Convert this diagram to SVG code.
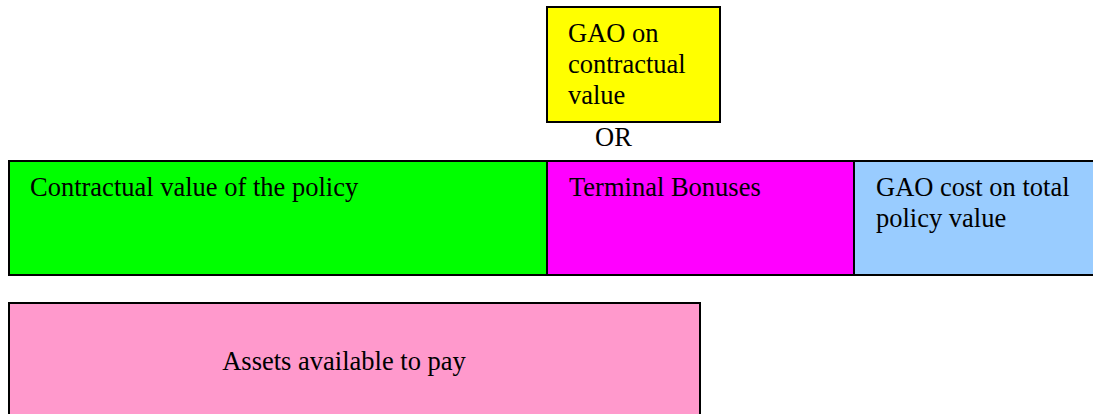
<svg xmlns="http://www.w3.org/2000/svg" width="1093" height="414" viewBox="0 0 1093 414">
<style>
.b{stroke:#000;stroke-width:2}
.t{font-size:26.5px;fill:#000}
</style>
<rect width="1093" height="414" fill="#fff"/>
<g font-family="Liberation Serif, Times New Roman, serif">
<g id="gao-contract"><rect class="b" x="547" y="7" width="173" height="115" fill="#ffff00"/>
<text class="t" x="568" y="42">GAO on</text><text class="t" x="568" y="73">contractual</text><text class="t" x="568" y="104">value</text></g>
<g id="or"><text class="t" x="595" y="146">OR</text></g>
<g id="contractual"><rect class="b" x="9" y="161" width="538" height="114" fill="#00ff00"/>
<text class="t" x="30" y="196">Contractual value of the policy</text></g>
<g id="terminal"><rect class="b" x="547" y="161" width="307" height="114" fill="#ff00ff"/>
<text class="t" x="569" y="196">Terminal Bonuses</text></g>
<g id="gao-total"><rect class="b" x="854" y="161" width="245" height="114" fill="#99ccff"/>
<text class="t" x="876" y="196">GAO cost on total</text><text class="t" x="876" y="227">policy value</text></g>
<g id="assets"><rect class="b" x="9" y="303" width="691" height="120" fill="#ff99cc"/>
<text class="t" x="344" y="370" text-anchor="middle">Assets available to pay</text></g>
</g>
<g id="connectors"/>
</svg>
